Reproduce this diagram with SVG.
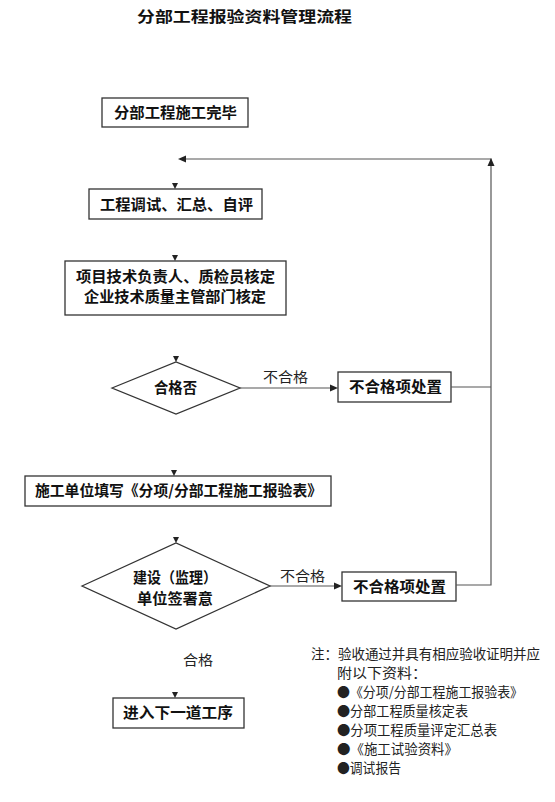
<svg xmlns="http://www.w3.org/2000/svg" width="555" height="802" viewBox="0 0 555 802">
<style>
.box{fill:#fff;stroke:#333;stroke-width:1.3}
.b{font-family:"Noto Sans CJK SC","Liberation Sans",sans-serif;font-weight:bold;font-size:15px;fill:#111}
.t{font-family:"Noto Sans CJK SC","Liberation Sans",sans-serif;font-size:13.5px;fill:#222}
.ln{fill:none;stroke:#555;stroke-width:1.2}
.ah{fill:#222}
</style>
<rect width="555" height="802" fill="#fff"/>
<text class="b" x="137" y="22" font-size="17.5" textLength="215" lengthAdjust="spacingAndGlyphs">分部工程报验资料管理流程</text>

<g id="n1"><rect class="box" x="102" y="98" width="146" height="29"/><text class="b" x="114" y="118" textLength="123" lengthAdjust="spacingAndGlyphs">分部工程施工完毕</text></g>
<g id="n2"><rect class="box" x="89" y="189" width="173" height="30"/><text class="b" x="100" y="210" textLength="153" lengthAdjust="spacingAndGlyphs">工程调试、汇总、自评</text></g>
<g id="n3"><rect class="box" x="65" y="261" width="221" height="54"/><text class="b" x="76" y="282" textLength="199" lengthAdjust="spacingAndGlyphs">项目技术负责人、质检员核定</text><text class="b" x="84" y="302" textLength="182" lengthAdjust="spacingAndGlyphs">企业技术质量主管部门核定</text></g>
<g id="n4"><polygon class="box" points="112,388 176,362 240,388 176,414"/><text class="b" x="154" y="393" textLength="43" lengthAdjust="spacingAndGlyphs">合格否</text></g>
<g id="n5"><rect class="box" x="338" y="372" width="113" height="30"/><text class="b" x="349" y="392" textLength="93" lengthAdjust="spacingAndGlyphs">不合格项处置</text></g>
<g id="n6"><rect class="box" x="25" y="476" width="306" height="30"/><text class="b" x="35" y="496" textLength="287" lengthAdjust="spacingAndGlyphs">施工单位填写《分项/分部工程施工报验表》</text></g>
<g id="n7"><polygon class="box" points="82,586 176,543 270,586 176,629"/><text class="b" x="133" y="583" textLength="84" lengthAdjust="spacingAndGlyphs">建设（监理）</text><text class="b" x="137" y="604" textLength="76" lengthAdjust="spacingAndGlyphs">单位签署意</text></g>
<g id="n8"><rect class="box" x="342" y="572" width="114" height="29"/><text class="b" x="353" y="592" textLength="93" lengthAdjust="spacingAndGlyphs">不合格项处置</text></g>
<g id="n9"><rect class="box" x="113" y="698" width="131" height="30"/><text class="b" x="123" y="718" textLength="110" lengthAdjust="spacingAndGlyphs">进入下一道工序</text></g>

<g id="connectors">
<path class="ln" d="M186,159 H491 V166"/>
<path class="ah" d="M178,159 L186,155.5 L186,162.5 Z"/>
<path class="ah" d="M491,158 L487.5,166 L494.5,166 Z"/>
<path class="ln" d="M491,166 V585 H456"/>
<path class="ln" d="M451,387 H491"/>
<path class="ln" d="M240,388 H331"/>
<path class="ah" d="M338,388 L330,384.5 L330,391.5 Z"/>
<path class="ln" d="M270,586 H335"/>
<path class="ah" d="M342,586 L334,582.5 L334,589.5 Z"/>
<path class="ah" d="M172,183 L178,183 L175,189 Z"/>
<path class="ah" d="M172,255 L178,255 L175,261 Z"/>
<path class="ah" d="M173,356 L179,356 L176,362 Z"/>
<path class="ah" d="M171,470 L177,470 L174,476 Z"/>
<path class="ah" d="M173,537 L179,537 L176,543 Z"/>
<path class="ah" d="M172,692 L178,692 L175,698 Z"/>
<text class="t" x="263" y="382" textLength="45" lengthAdjust="spacingAndGlyphs">不合格</text>
<text class="t" x="280" y="581" textLength="45" lengthAdjust="spacingAndGlyphs">不合格</text>
<text class="t" x="183" y="665" textLength="30" lengthAdjust="spacingAndGlyphs">合格</text>
</g>

<g id="note" class="t" font-size="11.5">
<text x="311" y="659" textLength="229" lengthAdjust="spacingAndGlyphs">注：验收通过并具有相应验收证明并应</text>
<text x="337" y="678" textLength="90" lengthAdjust="spacingAndGlyphs">附以下资料：</text>
<text x="337" y="697" textLength="186" lengthAdjust="spacingAndGlyphs">●《分项/分部工程施工报验表》</text>
<text x="337" y="716" textLength="131" lengthAdjust="spacingAndGlyphs">●分部工程质量核定表</text>
<text x="337" y="735" textLength="160" lengthAdjust="spacingAndGlyphs">●分项工程质量评定汇总表</text>
<text x="337" y="754" textLength="121" lengthAdjust="spacingAndGlyphs">●《施工试验资料》</text>
<text x="337" y="773" textLength="64" lengthAdjust="spacingAndGlyphs">●调试报告</text>
</g>
</svg>
